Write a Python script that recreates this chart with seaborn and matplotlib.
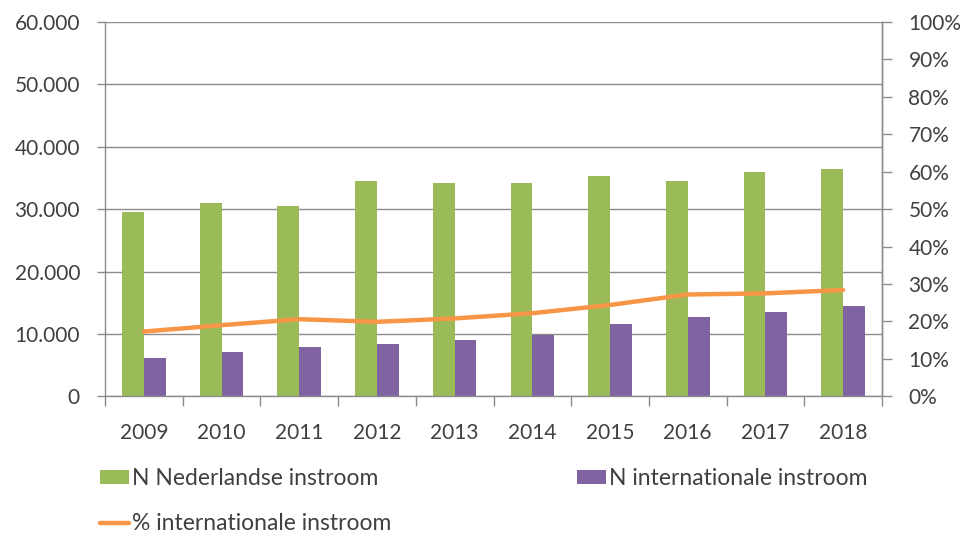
import numpy as np
import pandas as pd
import matplotlib
matplotlib.use("Agg")
import matplotlib.pyplot as plt
import seaborn as sns
from matplotlib.ticker import FuncFormatter, MultipleLocator, FixedLocator
from matplotlib.patches import Patch
from matplotlib.lines import Line2D

years = ["2009", "2010", "2011", "2012", "2013", "2014", "2015", "2016", "2017", "2018"]
n_nederlandse = [29500, 31000, 30450, 34550, 34150, 34150, 35350, 34500, 35900, 36480]
n_internationale = [6100, 7100, 7850, 8430, 9020, 9870, 11590, 12710, 13510, 14470]
pct_internationale = [17.3, 19.0, 20.6, 19.9, 20.8, 22.2, 24.4, 27.2, 27.5, 28.4]

lab_ned = "N Nederlandse instroom"
lab_int = "N internationale instroom"
lab_pct = "% internationale instroom"

green = "#9BBB59"
purple = "#8064A2"
orange = "#F79646"
grid_c = "#8C8C8C"
text_c = "#404040"

sns.set_theme(style="white")
plt.rcParams["font.family"] = ["Lato", "DejaVu Sans"]

df = pd.DataFrame({
    "jaar": years * 2,
    "waarde": n_nederlandse + n_internationale,
    "reeks": [lab_ned] * len(years) + [lab_int] * len(years),
})

fig = plt.figure(figsize=(9.73, 5.35), dpi=100)
ax = fig.add_axes([105 / 973, 1 - 396.3 / 535, (882 - 105) / 973, (396.3 - 22) / 535])

sns.barplot(data=df, x="jaar", y="waarde", hue="reeks", order=years,
            hue_order=[lab_ned, lab_int], palette=[green, purple],
            width=0.56, gap=0, linewidth=0, saturation=1, ax=ax, legend=False)

ax.set_xlim(-0.5, len(years) - 0.5)
ax.set_ylim(0, 60000)
ax.yaxis.set_major_locator(MultipleLocator(10000))
ax.yaxis.set_major_formatter(FuncFormatter(lambda v, p: f"{int(v):,}".replace(",", ".")))
ax.grid(axis="y", color=grid_c, linewidth=1)
ax.set_axisbelow(True)
ax.set_xlabel("")
ax.set_ylabel("")

ax.set_xticks(np.arange(len(years)))
ax.set_xticklabels(years)
ax.xaxis.set_minor_locator(FixedLocator(np.arange(-0.5, len(years), 1.0)))
ax.tick_params(axis="x", which="major", length=0, pad=19, labelsize=15, labelcolor=text_c)
ax.tick_params(axis="x", which="minor", length=7, width=1, color=grid_c, direction="out", bottom=True)
ax.tick_params(axis="y", which="major", length=6, width=1, color=grid_c, direction="out",
               left=True, labelsize=15, labelcolor=text_c, pad=12)

ax.spines["top"].set_visible(False)
for s in ["left", "right", "bottom"]:
    ax.spines[s].set_color(grid_c)
    ax.spines[s].set_linewidth(1)

ax2 = ax.twinx()
sns.lineplot(x=np.arange(len(years)), y=pct_internationale, color=orange,
             linewidth=3.2, ax=ax2, legend=False)
ax2.set_ylim(0, 100)
ax2.yaxis.set_major_locator(MultipleLocator(10))
ax2.yaxis.set_major_formatter(FuncFormatter(lambda v, p: f"{int(round(v))}%"))
ax2.tick_params(axis="y", which="major", length=7, width=1, color=grid_c, direction="out",
                right=True, labelsize=15, labelcolor=text_c, pad=12)
ax2.set_xlim(-0.5, len(years) - 0.5)
for s in ["top", "left", "bottom"]:
    ax2.spines[s].set_visible(False)
ax2.spines["right"].set_color(grid_c)
ax2.spines["right"].set_linewidth(1)

h_ned = Patch(facecolor=green, edgecolor="none")
h_int = Patch(facecolor=purple, edgecolor="none")
h_pct = Line2D([0], [0], color=orange, linewidth=3.2)

leg_kw = dict(frameon=False, fontsize=16.5, handlelength=1.25, handleheight=0.55,
              handletextpad=0.15, labelspacing=1.05, borderaxespad=0, borderpad=0,
              labelcolor=text_c)
fig.legend([h_ned, h_pct], [lab_ned, lab_pct], loc="upper left",
           bbox_to_anchor=(100 / 973, 1 - 468 / 535), **leg_kw)
fig.legend([h_int], [lab_int], loc="upper left",
           bbox_to_anchor=(577 / 973, 1 - 468 / 535), **leg_kw)

fig.savefig("out.png", dpi=100)
